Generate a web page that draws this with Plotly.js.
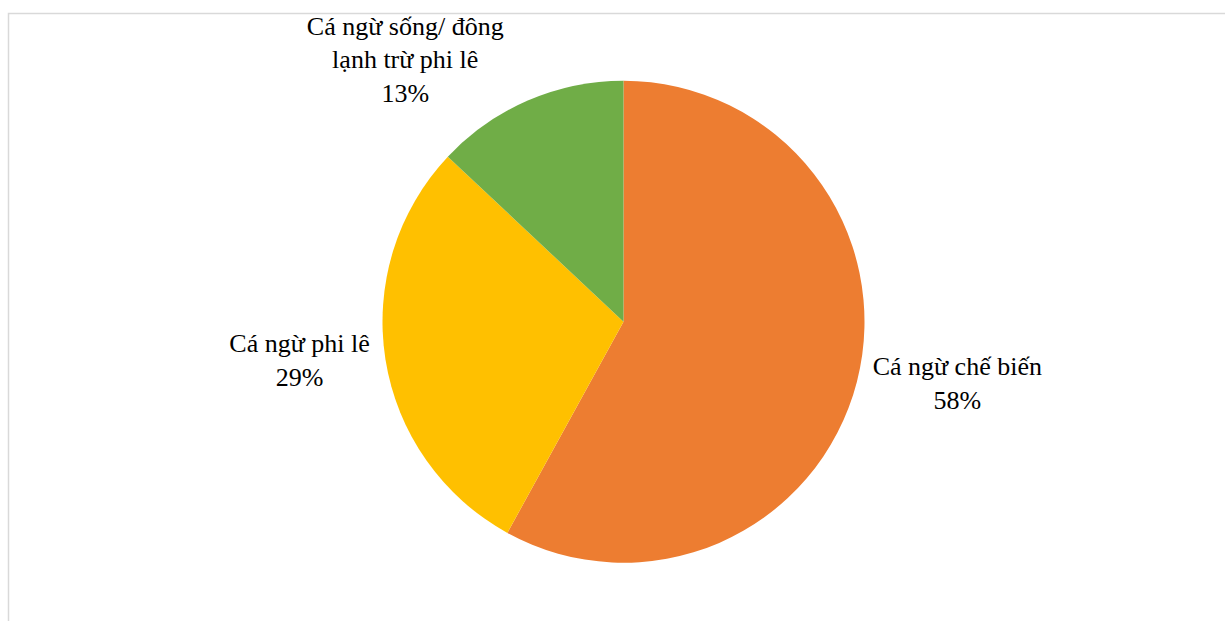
<!DOCTYPE html>
<html>
<head>
<meta charset="utf-8">
<script src="https://cdn.plot.ly/plotly-3.0.1.min.js"></script>
<style>
html,body{margin:0;padding:0;background:#fff;}
#chart{width:1225px;height:621px;}
</style>
</head>
<body>
<div id="chart"></div>
<script>
const categories = ["Cá ngừ chế biến", "Cá ngừ phi lê", "Cá ngừ sống/ đông<br>lạnh trừ phi lê"];
const shares = [58, 29, 13];
const colors = ["#ED7D31", "#FFC000", "#70AD47"];

const W = 1225, H = 621;
const cx = 623.5, cy = 321.7, r = 241;
const FONT = "Liberation Serif";

const trace = {
  type: "pie",
  labels: categories,
  values: shares,
  sort: false,
  direction: "clockwise",
  rotation: 0,
  marker: {colors: colors, line: {width: 0}},
  textposition: "outside",
  texttemplate: "%{label}<br>%{percent:.0%}",
  textfont: {family: FONT, size: 26, color: "#000000"},
  outsidetextfont: {family: FONT, size: 26, color: "#000000"},
  hoverinfo: "label+percent",
  automargin: false,
  showlegend: false,
  domain: {x: [(cx - r) / W, (cx + r) / W], y: [1 - (cy + r) / H, 1 - (cy - r) / H]}
};

const layout = {
  width: W, height: H,
  margin: {l: 0, r: 0, t: 0, b: 0},
  paper_bgcolor: "#ffffff",
  showlegend: false,
  font: {family: FONT},
  shapes: [{
    type: "rect", xref: "paper", yref: "paper",
    x0: 8.5 / W, x1: 1.05, y0: -0.05, y1: 1 - 13.5 / H,
    line: {color: "#d9d9d9", width: 1.5}, fillcolor: "rgba(0,0,0,0)"
  }]
};

Plotly.newPlot("chart", [trace], layout, {displayModeBar: false, staticPlot: true});
</script>
</body>
</html>
